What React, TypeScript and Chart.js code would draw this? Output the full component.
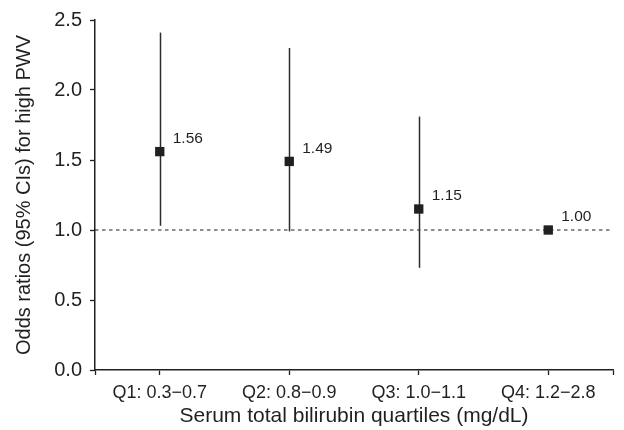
import React, { useEffect, useRef } from "react";
import { Chart, registerables } from "chart.js";

Chart.register(...registerables);

const categories = ["Q1: 0.3\u22120.7", "Q2: 0.8\u22120.9", "Q3: 1.0\u22121.1", "Q4: 1.2\u22122.8"];
const oddsRatios = [1.56, 1.49, 1.15, 1.0];
const lowerCI: (number | null)[] = [1.03, 0.99, 0.73, null];
const upperCI: (number | null)[] = [2.41, 2.3, 1.81, null];
const oddsLabels = ["1.56", "1.49", "1.15", "1.00"];
const yTicks = [0, 0.5, 1.0, 1.5, 2.0, 2.5];
const referenceValue = 1.0;

const INK = "#231f20";
const FONT = "'Liberation Sans', Arial, Helvetica, sans-serif";

const forestPlugin = {
  id: "forestPlugin",
  beforeDatasetsDraw(chart: any) {
    const { ctx, scales, chartArea } = chart;
    const xs = scales.x;
    const ys = scales.y;
    ctx.save();
    const yr = ys.getPixelForValue(referenceValue);
    ctx.strokeStyle = INK;
    ctx.lineWidth = 1.2;
    ctx.setLineDash([3.5, 3.5]);
    ctx.beginPath();
    ctx.moveTo(chartArea.left, yr);
    ctx.lineTo(chartArea.right, yr);
    ctx.stroke();
    ctx.setLineDash([]);
    ctx.lineWidth = 1.5;
    ctx.strokeStyle = "#2e2a2b";
    categories.forEach((_, i) => {
      const lo = lowerCI[i];
      const hi = upperCI[i];
      if (lo == null || hi == null) return;
      const x = Math.round(xs.getPixelForValue(i + 1)) + 0.5;
      ctx.beginPath();
      ctx.moveTo(x, ys.getPixelForValue(lo));
      ctx.lineTo(x, ys.getPixelForValue(hi));
      ctx.stroke();
    });
    ctx.restore();
  },
  afterDatasetsDraw(chart: any) {
    const { ctx, scales } = chart;
    const xs = scales.x;
    const ys = scales.y;
    ctx.save();
    ctx.fillStyle = INK;
    ctx.font = `15.5px ${FONT}`;
    ctx.textAlign = "left";
    ctx.textBaseline = "middle";
    categories.forEach((_, i) => {
      const x = xs.getPixelForValue(i + 1);
      const y = ys.getPixelForValue(oddsRatios[i]);
      ctx.fillText(oddsLabels[i], x + 13, y - 13);
    });
    ctx.restore();
  },
};

export default function App() {
  const ref = useRef<HTMLCanvasElement | null>(null);
  useEffect(() => {
    if (!ref.current) return;
    const chart = new Chart(ref.current, {
      type: "scatter",
      data: {
        datasets: [
          {
            data: oddsRatios.map((v, i) => ({ x: i + 1, y: v })),
            pointStyle: "rect",
            pointRadius: 6.6,
            pointHoverRadius: 6.6,
            backgroundColor: INK,
            borderColor: INK,
            borderWidth: 0,
          },
        ],
      },
      options: {
        responsive: false,
        animation: false,
        events: [],
        layout: { padding: { top: 15, right: 11, left: 0, bottom: 0 } },
        plugins: {
          legend: { display: false },
          tooltip: { enabled: false },
        },
        scales: {
          x: {
            type: "linear",
            min: 0.5,
            max: 4.5,
            afterBuildTicks: (scale: any) => {
              scale.ticks = [0.5, 1, 2, 3, 4, 4.5].map((v) => ({ value: v }));
            },
            afterFit: (scale: any) => {
              scale.height = 60;
            },
            grid: {
              drawOnChartArea: false,
              color: INK,
              tickLength: 5,
              tickWidth: 1.3,
            },
            border: { color: INK, width: 1.5 },
            ticks: {
              autoSkip: false,
              maxRotation: 0,
              padding: 7,
              color: INK,
              font: { family: FONT, size: 18 },
              callback: (v: any) => {
                const n = Number(v);
                return Number.isInteger(n) ? categories[n - 1] : "";
              },
            },
            title: {
              display: true,
              text: "Serum total bilirubin quartiles (mg/dL)",
              color: INK,
              font: { family: FONT, size: 21, lineHeight: 1.2 },
              padding: { top: 0, bottom: 1 },
            },
          },
          y: {
            min: 0,
            max: 2.5,
            afterBuildTicks: (scale: any) => {
              scale.ticks = yTicks.map((v) => ({ value: v }));
            },
            afterFit: (scale: any) => {
              scale.width = 95;
            },
            grid: {
              drawOnChartArea: false,
              color: INK,
              tickLength: 5,
              tickWidth: 1.3,
            },
            border: { color: INK, width: 1.5 },
            ticks: {
              padding: 8,
              color: INK,
              font: { family: FONT, size: 20 },
              callback: (v: any) => Number(v).toFixed(1),
            },
            title: {
              display: true,
              text: "Odds ratios (95% CIs) for high PWV",
              color: INK,
              font: { family: FONT, size: 20, lineHeight: 1.2 },
              padding: { top: 12, bottom: 0 },
            },
          },
        },
      },
      plugins: [forestPlugin],
    } as any);
    return () => chart.destroy();
  }, []);
  return (
    <div style={{ position: "absolute", left: 0, top: 0, width: 624, height: 430, background: "#fff" }}>
      <canvas ref={ref} width={624} height={430} />
    </div>
  );
}
